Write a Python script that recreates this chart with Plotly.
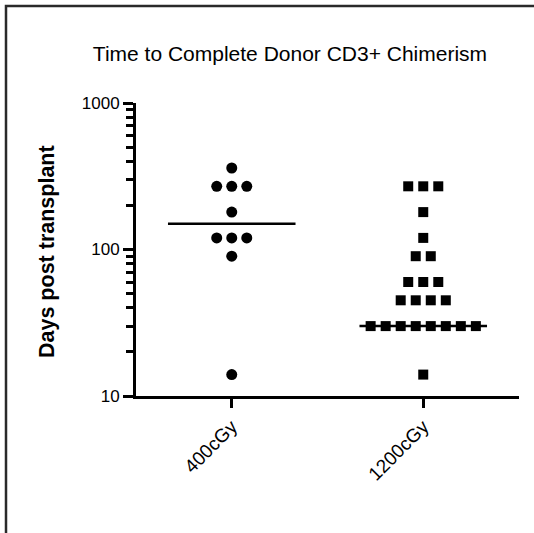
import plotly.graph_objects as go
from collections import Counter

categories = ["400cGy", "1200cGy"]
values_400 = [360, 270, 270, 270, 180, 120, 120, 120, 90, 14]
values_1200 = [270, 270, 270, 180, 120, 90, 90, 60, 60, 60,
               45, 45, 45, 45, 30, 30, 30, 30, 30, 30, 30, 30, 14]
center_lines = [150, 30]
y_tick_vals = [10, 100, 1000]
y_tick_text = ["10", "100", "1000"]
y_minor_vals = [20, 30, 40, 50, 60, 70, 80, 90,
                200, 300, 400, 500, 600, 700, 800, 900]

SPREAD = 0.0785  # horizontal spacing of tied points (category units)


def swarm(cat_index, vals):
    counts = Counter(vals)
    seen = Counter()
    xs = []
    for v in vals:
        n = counts[v]
        k = seen[v]
        seen[v] += 1
        xs.append(cat_index + (k - (n - 1) / 2) * SPREAD)
    return xs

fig = go.Figure()
fig.add_trace(go.Scatter(
    x=swarm(0, values_400), y=values_400, mode="markers",
    marker=dict(symbol="circle", size=11, color="black"),
    showlegend=False, cliponaxis=False))
fig.add_trace(go.Scatter(
    x=swarm(1, values_1200), y=values_1200, mode="markers",
    marker=dict(symbol="square", size=10, color="black"),
    showlegend=False, cliponaxis=False))

HALF = 0.333
for i, v in enumerate(center_lines):
    fig.add_trace(go.Scatter(
        x=[i - HALF, i + HALF], y=[v, v], mode="lines",
        line=dict(color="black", width=2.5), showlegend=False,
        hoverinfo="skip"))

fig.update_layout(
    width=534, height=533,
    margin=dict(l=136, r=15, t=103, b=137),
    paper_bgcolor="white", plot_bgcolor="white",
    font=dict(family="Liberation Sans, Arial, sans-serif", color="black"),
    title=dict(text="Time to Complete Donor CD3+ Chimerism",
               x=290 / 534, xref="container", xanchor="center",
               y=1 - 54 / 533, yref="container", yanchor="middle",
               font=dict(size=21, color="black")),
    xaxis=dict(
        type="linear", range=[-0.5, 1.5],
        tickmode="array", tickvals=[0, 1], ticktext=categories,
        tickangle=-45, ticks="outside", ticklen=9, tickwidth=3,
        tickcolor="black", showline=True, linecolor="black",
        linewidth=3, showgrid=False, zeroline=False,
        tickfont=dict(size=19, color="black")),
    yaxis=dict(
        type="log", range=[1, 3],
        tickmode="array", tickvals=y_tick_vals, ticktext=y_tick_text,
        ticks="outside", ticklen=10, tickwidth=3, tickcolor="black",
        showline=True, linecolor="black", linewidth=3,
        showgrid=False, zeroline=False,
        tickfont=dict(size=17, color="black"),
        minor=dict(tickmode="array", tickvals=y_minor_vals,
                   ticks="outside", ticklen=7, tickwidth=2.5,
                   tickcolor="black", showgrid=False)),
    annotations=[dict(
        text="<b>Days post transplant</b>", textangle=-90,
        xref="paper", yref="paper",
        x=(47 - 136) / 383, y=(396 - 252) / 293,
        xanchor="center", yanchor="middle",
        showarrow=False, font=dict(size=21.5, color="black"))],
    shapes=[
        dict(type="rect", xref="paper", yref="paper", layer="below",
             x0=(6 - 136) / 383, x1=(560 - 136) / 383,
             y0=(396 - 6) / 293, y1=(396 - 560) / 293,
             line=dict(color="#2a2a2a", width=2.5),
             fillcolor="rgba(0,0,0,0)"),
    ],
)

fig.write_html("out.html",
               config={"displayModeBar": False},
               post_script="document.body.style.margin='0';")
